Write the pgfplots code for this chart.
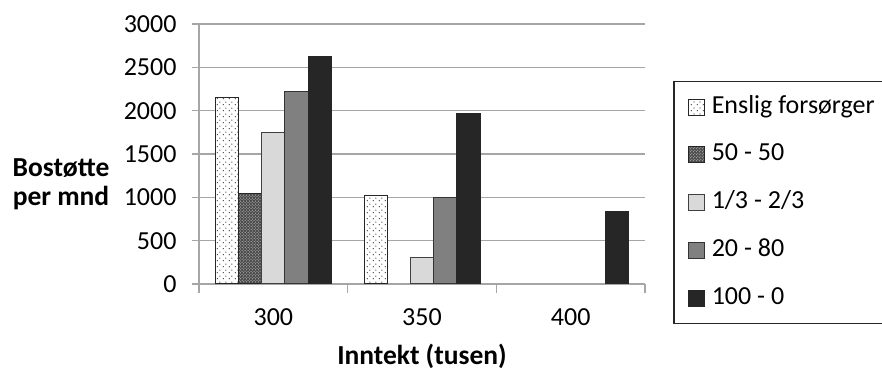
\documentclass[border=0pt]{standalone}
\usepackage{fontspec}
\setmainfont{Carlito}
\usepackage{pgfplots}
\pgfplotsset{compat=1.18}
\usetikzlibrary{patterns}
\definecolor{lg}{HTML}{D9D9D9}
\definecolor{mg}{HTML}{808080}
\definecolor{dg}{HTML}{262626}
\definecolor{gridc}{HTML}{A6A6A6}
\newcommand{\fs}{\fontsize{26bp}{29bp}\selectfont}
\newcommand{\fb}{\fontsize{27.5bp}{28.5bp}\selectfont\bfseries}
\pgfdeclarepatternformonly{sparsedots}{\pgfpointorigin}{\pgfpoint{6bp}{6bp}}{\pgfpoint{6bp}{6bp}}{%
  \pgfpathcircle{\pgfpoint{1.5bp}{1.5bp}}{0.8bp}%
  \pgfpathcircle{\pgfpoint{4.5bp}{4.5bp}}{0.8bp}%
  \pgfusepath{fill}}
\begin{document}
\begin{tikzpicture}
\begin{axis}[
  at={(199bp,86bp)}, anchor=south west,
  scale only axis, width=446bp, height=260bp,
  ybar=0pt, bar width=23.2bp,
  xmin=-0.5, xmax=2.5, ymin=0, ymax=3000,
  axis x line*=bottom, axis y line*=left,
  axis line style={gridc, line width=1.5bp, -},
  xtick={0,1,2}, xticklabels={300,350,400},
  minor xtick={-0.5,0.5,1.5,2.5},
  ytick={0,500,1000,1500,2000,2500,3000},
  ymajorgrids, grid style={gridc, line width=1.5bp},
  tick align=outside,
  major tick length=7bp, minor tick length=9bp,
  every tick/.style={gridc, line width=1.5bp},
  major x tick style={draw=none},
  tick label style={font=\fs},
  /pgf/number format/assume math mode=true,
  /pgf/number format/1000 sep={},
  xticklabel style={yshift=-14bp},
  yticklabel style={xshift=-12bp},
  legend style={at={(1.0628,0.781)}, anchor=north west, draw=black!85, line width=1.5bp,
    font=\fs, inner xsep=14bp, inner ysep=13.5bp, row sep=23.75bp, column sep=7bp,
    nodes={inner sep=0pt, text height=18bp, text depth=6bp}},
  legend cell align=left,
  legend image code/.code={\draw[#1, line width=1bp] (0bp,-8bp) rectangle (16bp,8bp);},
]
\addplot[draw=black!85, line width=1bp, fill=white, postaction={pattern=sparsedots, pattern color=black!70}]
  coordinates {(0,2150) (1,1020)};
\addplot[draw=black!85, line width=1bp, fill=black!70, postaction={pattern=crosshatch dots, pattern color=white!85!black}]
  coordinates {(0,1045)};
\addplot[draw=black!75, line width=1bp, fill=lg] coordinates {(0,1745) (1,310)};
\addplot[draw=black!80, line width=1bp, fill=mg] coordinates {(0,2220) (1,995)};
\addplot[draw=dg, line width=1bp, fill=dg] coordinates {(0,2630) (1,1970) (2,840)};
\legend{Enslig forsørger, 50 - 50, 1/3 - 2/3, 20 - 80, 100 - 0}
\end{axis}
\node[font=\fb, align=center] at (61bp,186bp) {Bostøtte\\per mnd};
\node[font=\fb] at (422bp,14bp) {Inntekt (tusen)};
\pgfresetboundingbox
\useasboundingbox (0,0) rectangle (882bp,370bp);
\end{tikzpicture}
\end{document}
